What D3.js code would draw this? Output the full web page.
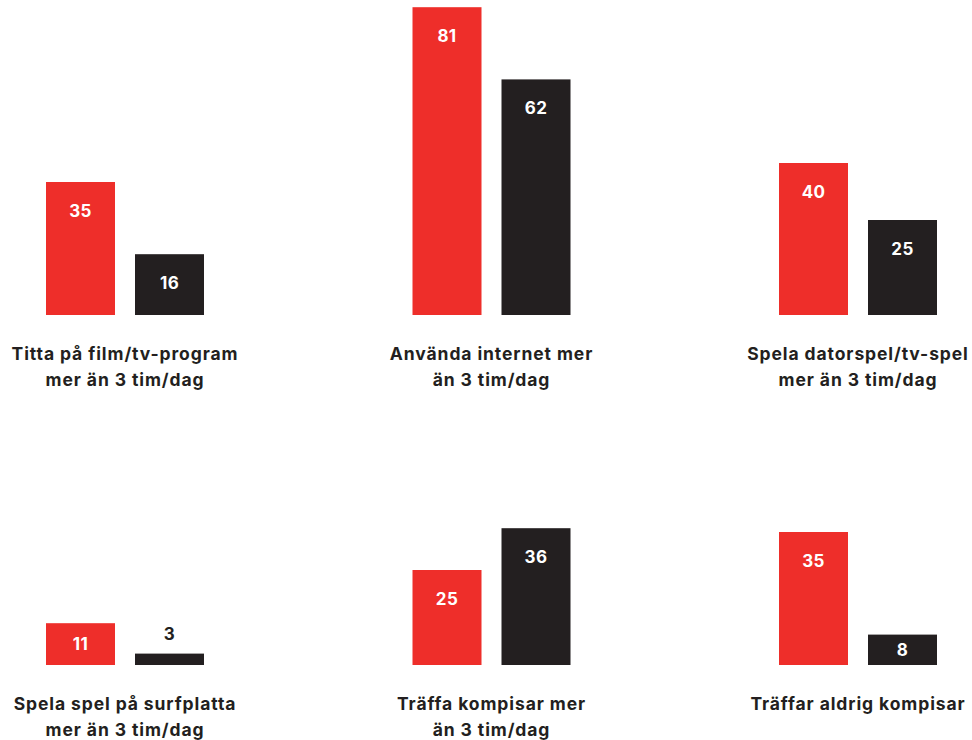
<!DOCTYPE html>
<html><head><meta charset="utf-8">
<script src="https://cdn.jsdelivr.net/npm/d3@7"></script>
<style>body{margin:0;background:#fff}svg{display:block}</style>
</head><body>
<script>
const categories = [
  ["Titta på film/tv-program", "mer än 3 tim/dag"],
  ["Använda internet mer", "än 3 tim/dag"],
  ["Spela datorspel/tv-spel", "mer än 3 tim/dag"],
  ["Spela spel på surfplatta", "mer än 3 tim/dag"],
  ["Träffa kompisar mer", "än 3 tim/dag"],
  ["Träffar aldrig kompisar"]
];
const seriesRed = [35, 81, 40, 11, 25, 35];
const seriesBlack = [16, 62, 25, 3, 36, 8];
const seriesKeys = ["red", "black"];
const colors = {red: "#ee2e2a", black: "#231f20"};

const W = 972, H = 740;
const svg = d3.select("body").append("svg").attr("width", W).attr("height", H);

const col = d3.scalePoint().domain([0,1,2]).range([125, 858]);
const row = d3.scalePoint().domain([0,1]).range([315, 665]);
const inner = d3.scaleBand().domain(seriesKeys).range([-79, 79]).paddingInner(0.2247).paddingOuter(0);
const y = d3.scaleLinear().domain([0, 100]).range([0, 380]);

const font = "Inter, 'Open Sans', sans-serif";

categories.forEach((cat, i) => {
  const g = svg.append("g").attr("transform", `translate(${col(i % 3)},${row(Math.floor(i / 3))})`);
  const vals = [{k: "red", v: seriesRed[i]}, {k: "black", v: seriesBlack[i]}];
  g.selectAll("rect").data(vals).join("rect")
    .attr("x", d => inner(d.k))
    .attr("width", inner.bandwidth())
    .attr("y", d => -y(d.v))
    .attr("height", d => y(d.v))
    .attr("fill", d => colors[d.k]);
  g.selectAll("text.val").data(vals).join("text")
    .attr("class", "val")
    .attr("x", d => inner(d.k) + inner.bandwidth() / 2)
    .attr("y", d => y(d.v) < 20 ? -y(d.v) - 14 : (y(d.v) < 50 ? -y(d.v) / 2 + 6 : -y(d.v) + 35))
    .attr("text-anchor", "middle")
    .attr("font-family", font)
    .attr("font-weight", 700)
    .attr("font-size", 17)
    .attr("letter-spacing", 0.4)
    .attr("fill", d => y(d.v) < 20 ? "#231f20" : "#fff")
    .text(d => d.v);
  const t = g.append("text")
    .attr("text-anchor", "middle")
    .attr("font-family", font)
    .attr("font-weight", 700)
    .attr("font-size", 17.5)
    .attr("letter-spacing", 0.9)
    .attr("fill", "#231f20");
  cat.forEach((line, j) => {
    t.append("tspan").attr("x", 0).attr("y", 45 + j * 25.5).text(line);
  });
});
</script>
</body></html>
